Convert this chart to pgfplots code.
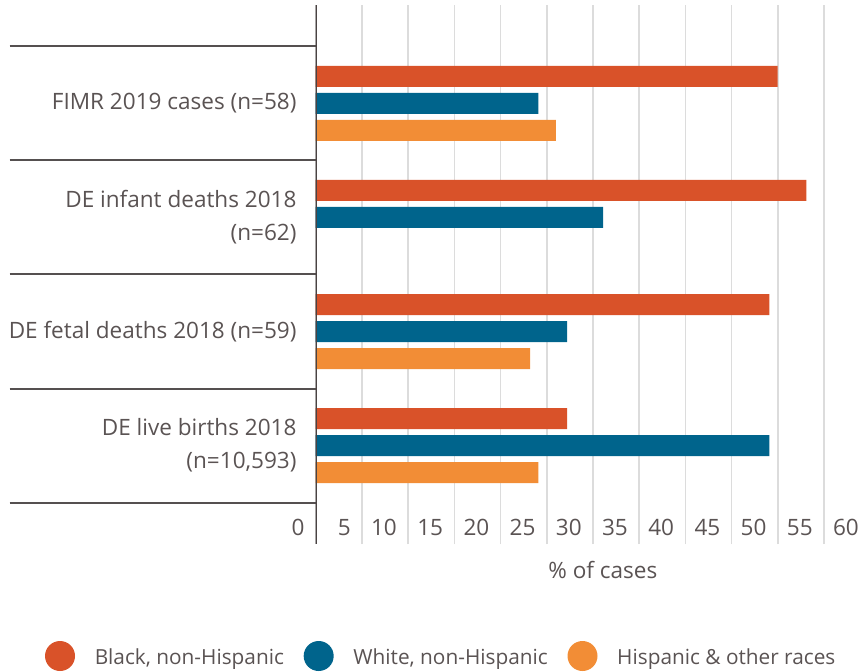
\documentclass[border=0pt]{standalone}
\usepackage{fontspec}
\setmainfont{Open Sans}
\usepackage{pgfplots}
\pgfplotsset{compat=1.18}
\definecolor{cBlack}{HTML}{D95229}
\definecolor{cWhite}{HTML}{00648C}
\definecolor{cHisp}{HTML}{F28D36}
\definecolor{textgray}{HTML}{5A5353}
\definecolor{axisgray}{HTML}{4A4343}
\definecolor{sepgray}{HTML}{555050}
\definecolor{gridgray}{HTML}{DCDCDC}
\begin{document}
\begin{tikzpicture}
\begin{axis}[
  scale only axis,
  width=415.8pt, height=404.25pt,
  at={(236.8pt,95.25pt)}, anchor=south west,
  xmin=0, xmax=60, ymin=-0.864, ymax=3.864,
  enlargelimits=false,
  xbar, bar width=15.75pt,
  axis line style={draw=none},
  xtick={0,5,...,60},
  xmajorgrids,
  grid style={color=gridgray, line width=1.2pt},
  xtick style={draw=none},
  /pgf/number format/assume math mode=true,
  xticklabel style={anchor=base east, inner sep=0pt, xshift=-8.25pt, yshift=6.75pt,
    font=\fontsize{16.9pt}{20pt}\selectfont, text=textgray},
  ytick={0,1,2,3},
  yticklabels={{DE live births 2018\\(n=10,593)},{DE fetal deaths 2018 (n=59)},{DE infant deaths 2018\\(n=62)},{FIMR 2019 cases (n=58)}},
  yticklabel style={align=right, anchor=east, inner sep=0pt, xshift=-14.25pt,
    font=\fontsize{16.9pt}{24.75pt}\selectfont, text=textgray},
  major tick length=0pt,
  minor ytick={-0.5,0.5,1.5,2.5,3.5},
  minor tick length=229.5pt,
  tick align=outside,
  ytick pos=left,
  ytick style={color=sepgray, line width=1.5pt},
  xlabel={\% of cases},
  xlabel style={at={(axis description cs:0.518,0)}, anchor=base, yshift=-25.5pt,
    font=\fontsize{16.9pt}{20pt}\selectfont, text=textgray},
  legend columns=3,
  legend style={at={(axis description cs:-0.4883,-0.2078)}, anchor=west,
    draw=none, fill=none, inner sep=0pt, outer sep=0pt, column sep=14.8pt,
    nodes={inner sep=0pt, text=textgray, font=\fontsize{15.6pt}{19pt}\selectfont}},
]
\addplot[fill=cBlack, draw=none, bar shift=20.25pt,
  legend image code/.code={\fill[cBlack] (11.25pt,1.5pt) circle[radius=11.25pt];}]
  coordinates {(27.2,0) (49.1,1) (53.1,2) (50.0,3)};
\addlegendentry{Black, non-Hispanic}
\addplot[fill=cWhite, draw=none, bar shift=0pt,
  legend image code/.code={\fill[cWhite] (11.25pt,1.5pt) circle[radius=11.25pt];}]
  coordinates {(49.1,0) (27.2,1) (31.1,2) (24.1,3)};
\addlegendentry{White, non-Hispanic}
\addplot[fill=cHisp, draw=none, bar shift=-20.25pt,
  legend image code/.code={\fill[cHisp] (11.25pt,1.5pt) circle[radius=11.25pt];}]
  coordinates {(24.1,0) (23.2,1) (26.0,3)};
\addlegendentry{Hispanic \& other races}
\draw[color=axisgray, line width=1.8pt] (axis description cs:0,0) -- (axis description cs:0,1);
\end{axis}
\pgfresetboundingbox
\useasboundingbox (0,0) rectangle (646.5pt,503.25pt);
\end{tikzpicture}
\end{document}
